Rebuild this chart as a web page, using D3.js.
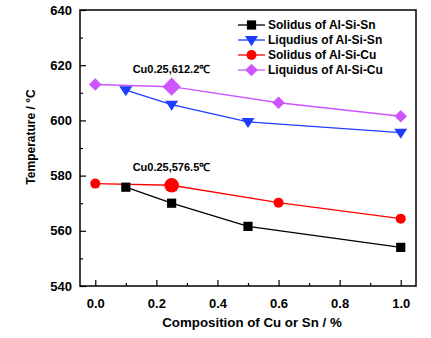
<!DOCTYPE html>
<html><head><meta charset="utf-8">
<script src="https://cdn.jsdelivr.net/npm/d3@7"></script>
<style>body{margin:0;background:#fff}svg{display:block;font-family:"Liberation Sans",Arial,sans-serif;font-weight:bold}</style>
</head><body>
<script>
const solSnX = [0.1, 0.25, 0.5, 1.0];
const solSnY = [575.8, 570.0, 561.6, 554.0];
const liqSnX = [0.1, 0.25, 0.5, 1.0];
const liqSnY = [611.0, 605.7, 599.5, 595.6];
const solCuX = [0.0, 0.25, 0.6, 1.0];
const solCuY = [577.1, 576.5, 570.2, 564.4];
const liqCuX = [0.0, 0.25, 0.6, 1.0];
const liqCuY = [613.0, 612.2, 606.4, 601.5];
const xTicks = [0.0, 0.2, 0.4, 0.6, 0.8, 1.0];
const yTicks = [540, 560, 580, 600, 620, 640];
const legendLabels = ["Solidus of Al-Si-Sn", "Liqudius of Al-Si-Sn", "Solidus of Al-Si-Cu", "Liquidus of Al-Si-Cu"];
const annotations = [{x: 0.25, y: 612.2, text: "Cu0.25,612.2℃"}, {x: 0.25, y: 576.5, text: "Cu0.25,576.5℃"}];

const W = 431, H = 338;
const m = {l: 80, r: 15, t: 10, b: 52};
const svg = d3.select("body").append("svg").attr("width", W).attr("height", H);
const x = d3.scaleLinear().domain([-0.05, 1.05]).range([m.l, W - m.r]);
const y = d3.scaleLinear().domain([540, 640]).range([H - m.b, m.t]);

// frame
svg.append("rect").attr("x", m.l).attr("y", m.t).attr("width", W - m.r - m.l).attr("height", H - m.b - m.t)
  .attr("fill", "none").attr("stroke", "#000").attr("stroke-width", 1.5);

// x axis ticks (inside)
const xa = svg.append("g").attr("transform", `translate(0,${H - m.b})`)
  .call(d3.axisBottom(x).tickValues(xTicks).tickSize(-6).tickPadding(13).tickFormat(d3.format(".1f")));
xa.select(".domain").remove();
xa.selectAll("text").attr("font-size", 13).attr("font-weight", "bold").attr("font-family", "Liberation Sans, Arial, sans-serif");
xa.selectAll("line").attr("stroke-width", 1.2);
const xm = svg.append("g").attr("transform", `translate(0,${H - m.b})`)
  .call(d3.axisBottom(x).tickValues([0.1, 0.3, 0.5, 0.7, 0.9]).tickSize(-3).tickFormat(""));
xm.select(".domain").remove();
xm.selectAll("line").attr("stroke-width", 1.2);

// y axis
const ya = svg.append("g").attr("transform", `translate(${m.l},0)`)
  .call(d3.axisLeft(y).tickValues(yTicks).tickSize(-6).tickPadding(8));
ya.select(".domain").remove();
ya.selectAll("text").attr("font-size", 13).attr("font-weight", "bold").attr("font-family", "Liberation Sans, Arial, sans-serif");
ya.selectAll("line").attr("stroke-width", 1.2);
const ym = svg.append("g").attr("transform", `translate(${m.l},0)`)
  .call(d3.axisLeft(y).tickValues([550, 570, 590, 610, 630]).tickSize(-3).tickFormat(""));
ym.select(".domain").remove();
ym.selectAll("line").attr("stroke-width", 1.2);

// axis titles
svg.append("text").attr("x", 252).attr("y", 327).attr("text-anchor", "middle").attr("font-size", 13.3)
  .text("Composition of Cu or Sn / %");
svg.append("text").attr("transform", "translate(35,137) rotate(-90)").attr("text-anchor", "middle").attr("font-size", 12)
  .text("Temperature / °C");

const series = [
  {xs: solSnX, ys: solSnY, color: "#000000", shape: "square"},
  {xs: liqSnX, ys: liqSnY, color: "#1f3dff", shape: "tri"},
  {xs: solCuX, ys: solCuY, color: "#ff0000", shape: "circle"},
  {xs: liqCuX, ys: liqCuY, color: "#cc55ff", shape: "diamond"}
];
function marker(g, shape, cx, cy, color, big) {
  const s = big ? 1.45 : 1;
  if (shape === "square") {
    const h = 4.6 * s;
    g.append("rect").attr("x", cx - h).attr("y", cy - h).attr("width", 2 * h).attr("height", 2 * h).attr("fill", color);
  } else if (shape === "circle") {
    g.append("circle").attr("cx", cx).attr("cy", cy).attr("r", 5 * s).attr("fill", color);
  } else if (shape === "tri") {
    const a = 6.5 * s;
    g.append("path").attr("d", `M${cx - a},${cy - a * 0.6}L${cx + a},${cy - a * 0.6}L${cx},${cy + a * 0.95}Z`).attr("fill", color);
  } else {
    const a = 6.3 * s;
    g.append("path").attr("d", `M${cx},${cy - a}L${cx + a},${cy}L${cx},${cy + a}L${cx - a},${cy}Z`).attr("fill", color);
  }
}
const line = d3.line();
series.forEach((sr, i) => {
  const pts = sr.xs.map((v, j) => [x(v), y(sr.ys[j])]);
  svg.append("path").attr("d", line(pts)).attr("fill", "none").attr("stroke", sr.color).attr("stroke-width", 1.3);
});
series.forEach((sr, i) => {
  const g = svg.append("g");
  sr.xs.forEach((v, j) => {
    const big = (i >= 2 && v === 0.25);
    marker(g, sr.shape, x(v), y(sr.ys[j]), sr.color, big);
  });
});

// annotations
annotations.forEach(a => {
  svg.append("text").attr("x", x(a.x) - 39).attr("y", y(a.y) - 14).attr("font-size", 11).text(a.text);
});

// legend
const lg = svg.append("g");
legendLabels.forEach((t, i) => {
  const yy = 25 + i * 15;
  const sr = series[i];
  lg.append("line").attr("x1", 238).attr("x2", 265).attr("y1", yy).attr("y2", yy).attr("stroke", sr.color).attr("stroke-width", 1.3);
  marker(lg, sr.shape, 251.5, yy, sr.color, false);
  lg.append("text").attr("x", 268).attr("y", yy + 4).attr("font-size", 12).text(t);
});
</script>
</body></html>
